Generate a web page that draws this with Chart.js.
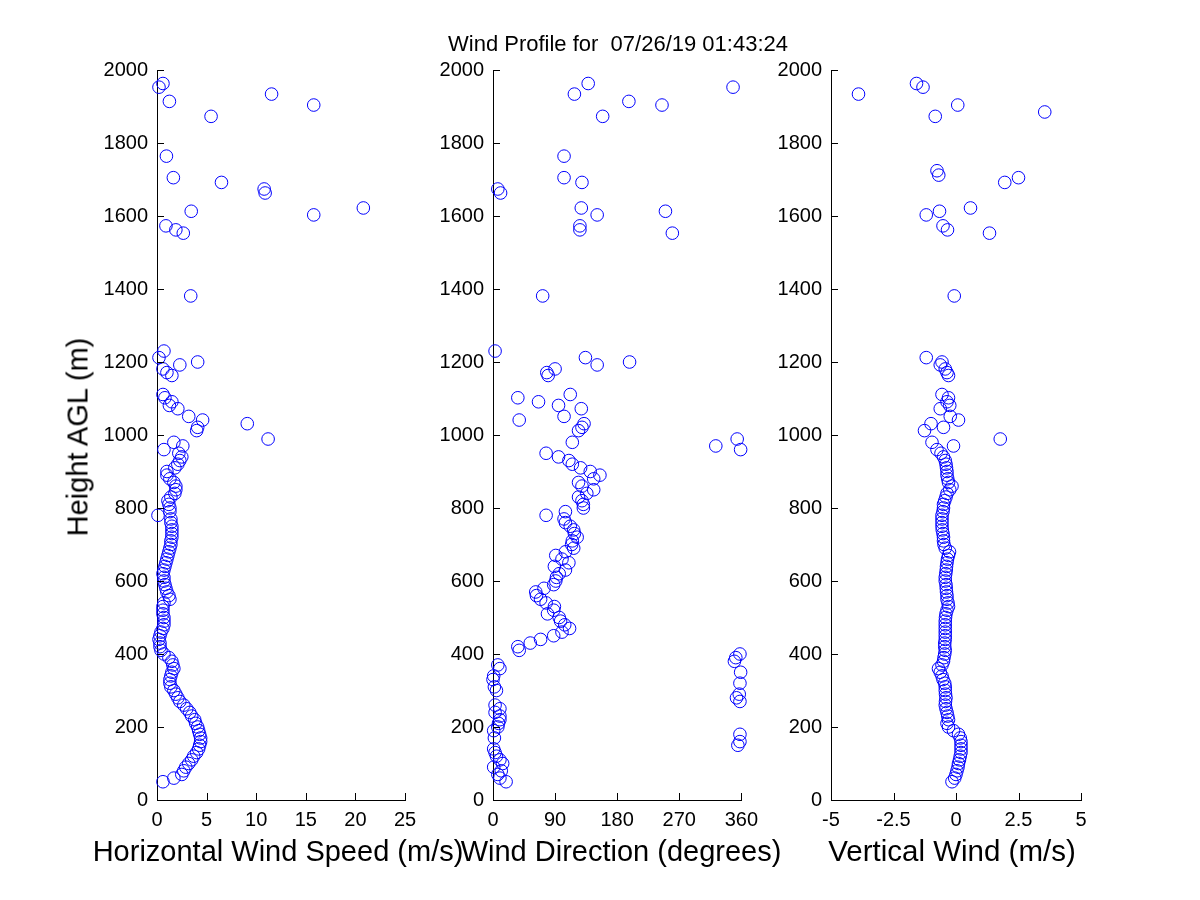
<!DOCTYPE html>
<html>
<head>
<meta charset="utf-8">
<script src="https://cdn.jsdelivr.net/npm/chart.js@4.4.1/dist/chart.umd.min.js"></script>
<style>
html,body{margin:0;padding:0;background:#fff;width:1200px;height:900px;overflow:hidden;font-family:"Liberation Sans",Arial,Helvetica,sans-serif;}
canvas{position:absolute;}
.txt{position:absolute;color:#000;white-space:nowrap;line-height:1;transform:translate(-50%,-50%);}
</style>
</head>
<body>
<canvas id="c1"></canvas>
<canvas id="c2"></canvas>
<canvas id="c3"></canvas>
<div class="txt" id="title" style="left:618px;top:44px;font-size:22px;">Wind Profile for&nbsp; 07/26/19 01:43:24</div>
<div class="txt" id="ylab" style="left:78px;top:437px;font-size:29px;transform:translate(-50%,-50%) rotate(-90deg);">Height AGL (m)</div>
<div class="txt" id="xl1" style="left:278px;top:851px;font-size:29px;">Horizontal Wind Speed (m/s)</div>
<div class="txt" id="xl2" style="left:621px;top:851px;font-size:29px;">Wind Direction (degrees)</div>
<div class="txt" id="xl3" style="left:952px;top:851px;font-size:29.5px;">Vertical Wind (m/s)</div>
<script>
// ---------------- DATA ----------------
const heights = [
  50,60,70,80,90,100,110,120,130,140,
  150,160,170,180,190,200,210,220,230,240,
  250,260,270,280,290,300,310,320,330,340,
  350,360,370,380,390,400,410,420,430,440,
  450,460,470,480,490,500,510,520,530,540,
  550,560,570,580,590,600,610,620,630,640,
  650,660,670,680,690,700,710,720,730,740,
  750,760,770,780,790,800,810,820,830,840,
  850,860,870,880,890,900,910,920,930,940,
  950,960,970,980,
  989,1012,1021,1031,1041,1051,1072,1081,1091,1102,
  1111,1163,1171,1181,1192,1200,1212,1230,1381,1553,
  1562,1573,1603,1613,1622,1663,1674,1692,1705,1712,
  1724,1764,1873,1885,1904,1914,1934,1953,1963
];
const horizontalSpeed = [
  0.6,1.7,2.5,2.7,2.9,3.2,3.5,3.7,4.0,4.2,
  4.3,4.4,4.4,4.3,4.2,4.1,3.9,3.8,3.5,3.3,
  3.0,2.7,2.3,2.1,1.9,1.7,1.4,1.3,1.3,1.4,
  1.5,1.7,1.6,1.5,1.2,0.7,0.4,0.3,0.3,0.2,
  0.3,0.4,0.6,0.7,0.7,0.7,0.6,0.6,0.6,0.7,
  1.3,1.2,1.0,0.9,0.8,0.7,0.7,0.6,0.7,0.8,
  0.9,1.0,1.1,1.2,1.3,1.4,1.4,1.5,1.5,1.5,
  1.5,1.4,1.4,0.1,1.3,1.3,1.2,1.1,1.4,1.8,
  1.9,1.9,1.7,1.3,1.0,1.0,1.8,2.1,2.3,2.5,
  2.2,0.7,2.6,1.7,
  11.2,4.0,4.1,9.1,4.6,3.2,2.1,1.25,1.5,0.8,
  0.6,1.5,1.0,0.6,2.3,4.1,0.2,0.7,3.4,2.65,
  1.9,0.9,15.8,3.45,20.8,10.9,10.8,6.5,1.65,null,
  null,0.95,5.45,null,15.8,1.25,11.55,0.2,0.6
];
const windDirection = [
  19,10,7,12,1,14,10,5,3,1,
  355,358,2,358,1,7,8,10,10,3,
  10,3,358,353,357,5,2,358,0,1,
  359,10,7,350,352,358,38,36,54,69,
  88,100,111,104,98,96,79,88,89,77,
  69,63,62,74,88,91,92,96,105,89,
  110,100,91,105,117,114,115,122,118,117,
  112,105,103,77,105,131,131,129,124,136,
  146,129,124,146,155,141,127,115,110,95,
  77,359,323,115,
  354,124,129,132,38,103,128,95,66,36,
  112,80,78,90,151,198,134,3,72,260,
  126,126,151,250,128,11,7,129,103,null,
  null,103,159,null,245,197,118,348,138
];
const verticalWind = [
  -0.16,-0.05,0.0,0.04,0.08,0.1,0.14,0.17,0.2,0.2,
  0.2,0.2,0.17,0.1,-0.1,-0.3,-0.36,-0.3,-0.33,-0.36,
  -0.4,-0.43,-0.42,-0.4,-0.42,-0.43,-0.43,-0.45,-0.52,-0.56,
  -0.63,-0.7,-0.56,-0.5,-0.48,-0.45,-0.43,-0.45,-0.45,-0.43,
  -0.43,-0.43,-0.43,-0.43,-0.43,-0.42,-0.4,-0.36,-0.3,-0.32,
  -0.36,-0.36,-0.38,-0.39,-0.4,-0.43,-0.43,-0.41,-0.39,-0.38,
  -0.36,-0.34,-0.3,-0.26,-0.43,-0.48,-0.5,-0.5,-0.52,-0.55,
  -0.56,-0.56,-0.56,-0.56,-0.52,-0.5,-0.5,-0.45,-0.4,-0.36,
  -0.25,-0.16,-0.3,-0.33,-0.36,-0.36,-0.38,-0.4,-0.43,-0.5,
  -0.6,-0.76,-0.1,-0.96,
  1.77,-1.26,-0.5,-1.0,0.1,-0.23,-0.63,-0.25,-0.36,-0.3,
  -0.56,-0.3,-0.36,-0.43,-0.63,-0.56,-1.19,null,-0.07,1.34,
  -0.34,-0.52,-1.19,-0.66,0.58,null,null,1.95,2.5,-0.69,
  -0.76,null,-0.83,3.55,0.07,null,-3.9,-1.32,-1.58
];
const heightTicks = [0,200,400,600,800,1000,1200,1400,1600,1800,2000];
const heightTickLabels = ['0','200','400','600','800','1000','1200','1400','1600','1800','2000'];
const speedTicks = [0,5,10,15,20,25];
const speedTickLabels = ['0','5','10','15','20','25'];
const dirTicks = [0,90,180,270,360];
const dirTickLabels = ['0','90','180','270','360'];
const vertTicks = [-5,-2.5,0,2.5,5];
const vertTickLabels = ['-5','-2.5','0','2.5','5'];

// ---------------- LAYOUT ----------------
const PLOT_TOP = 69, PLOT_BOTTOM = 800;
const LEFT_PAD = 80, TOP_PAD = 20, RIGHT_PAD = 22, BOTTOM_PAD = 50;
const FONT = '"Liberation Sans", Arial, Helvetica, sans-serif';

const inwardTicks = {
  id: 'inwardTicks',
  afterDraw(chart) {
    const {ctx, chartArea, scales} = chart;
    ctx.save();
    ctx.strokeStyle = '#000';
    ctx.lineWidth = 1;
    scales.x.ticks.forEach(t => {
      const px = Math.round(scales.x.getPixelForValue(t.value)) + 0.5;
      ctx.beginPath();
      ctx.moveTo(px, chartArea.bottom);
      ctx.lineTo(px, chartArea.bottom - 7);
      ctx.stroke();
    });
    scales.y.ticks.forEach(t => {
      const py = Math.round(scales.y.getPixelForValue(t.value)) + 0.5;
      ctx.beginPath();
      ctx.moveTo(chartArea.left, py);
      ctx.lineTo(chartArea.left + 7, py);
      ctx.stroke();
    });
    ctx.restore();
  }
};

function makePanel(id, plotLeft, plotRight, values, xMin, xMax, xTicks, xTickLabels) {
  const canvas = document.getElementById(id);
  const w = (plotRight - plotLeft) + LEFT_PAD + RIGHT_PAD;
  const h = (PLOT_BOTTOM - PLOT_TOP) + TOP_PAD + BOTTOM_PAD;
  canvas.width = w; canvas.height = h;
  canvas.style.width = w + 'px'; canvas.style.height = h + 'px';
  canvas.style.left = (plotLeft - LEFT_PAD) + 'px';
  canvas.style.top = (PLOT_TOP - TOP_PAD) + 'px';
  const pts = [];
  heights.forEach((hh, i) => { if (values[i] !== null) pts.push({x: values[i], y: hh}); });
  return new Chart(canvas, {
    type: 'scatter',
    data: { datasets: [{
      data: pts,
      pointStyle: 'circle',
      pointRadius: 6.3,
      pointHoverRadius: 6.3,
      pointBorderWidth: 1,
      pointBackgroundColor: 'rgba(0,0,0,0)',
      pointBorderColor: '#0000ff',
      clip: false
    }]},
    options: {
      responsive: false,
      animation: false,
      devicePixelRatio: 1,
      layout: { padding: { top: TOP_PAD, right: RIGHT_PAD, left: 0, bottom: 0 } },
      plugins: { legend: { display: false }, tooltip: { enabled: false }, title: { display: false } },
      scales: {
        x: {
          type: 'linear', min: xMin, max: xMax,
          afterFit: s => { s.height = BOTTOM_PAD; },
          afterBuildTicks: s => { s.ticks = xTicks.map(v => ({value: v})); },
          grid: { display: false, drawTicks: false },
          border: { display: true, color: '#000', width: 1 },
          ticks: {
            color: '#000', padding: 8, maxRotation: 0, autoSkip: false,
            font: { family: FONT, size: 20 },
            callback: (v) => { const k = xTicks.indexOf(v); return k >= 0 ? xTickLabels[k] : ''; }
          }
        },
        y: {
          type: 'linear', min: 0, max: 2000,
          afterFit: s => { s.width = LEFT_PAD; },
          afterBuildTicks: s => { s.ticks = heightTicks.map(v => ({value: v})); },
          grid: { display: false, drawTicks: false },
          border: { display: true, color: '#000', width: 1 },
          ticks: {
            color: '#000', padding: 9, autoSkip: false,
            font: { family: FONT, size: 20 },
            callback: (v) => { const k = heightTicks.indexOf(v); return k >= 0 ? heightTickLabels[k] : ''; }
          }
        }
      }
    },
    plugins: [inwardTicks]
  });
}

makePanel('c1', 157, 405, horizontalSpeed, 0, 25, speedTicks, speedTickLabels);
makePanel('c2', 493, 744, windDirection, 0, 360, dirTicks, dirTickLabels);
makePanel('c3', 831, 1081, verticalWind, -5, 5, vertTicks, vertTickLabels);
</script>
</body>
</html>
